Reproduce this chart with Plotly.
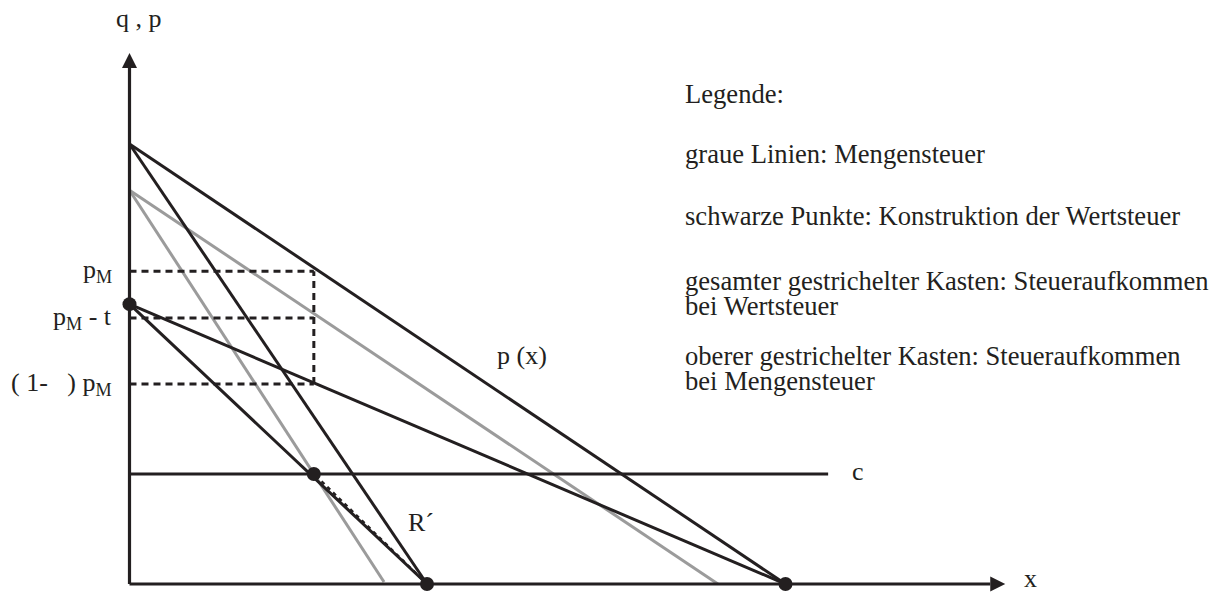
import plotly.graph_objects as go

# Diagram in economic units: demand intercepts normalised to 100
demand_x, demand_y = [0, 100], [100, 0]            # p(x)
mr_x, mr_y = [0, 45.35], [100, 0]                  # marginal revenue
gray_demand_x, gray_demand_y = [0, 89.7], [89.5, 0]      # after quantity tax
gray_mr_x, gray_mr_y = [0, 38.8], [89.5, 0.45]
rot_demand_x, rot_demand_y = [0, 100], [63.6, 0]         # rotated by value tax
rot_mr_x, rot_mr_y = [0, 45.35], [63.6, 0]
c_level, c_end = 25, 106.5
x_M = 28.1
p_M, p_M_t, p_M_tau = 71.1, 60.45, 45.45
dot_x = [0, x_M, 45.35, 100]
dot_y = [63.6, c_level, 0, 0]
y_axis_top, x_axis_end = 120.7, 133.5

BLACK = "#231f20"
GRAY = "#9b9b9b"
FONT = "Liberation Serif"
PX_X, PX_Y = 6.56, 4.4   # pixels per unit on each axis

fig = go.Figure()


def line(xs, ys, color=BLACK, width=3, dash="solid"):
    fig.add_trace(go.Scatter(x=xs, y=ys, mode="lines", hoverinfo="skip",
                             line=dict(color=color, width=width, dash=dash)))


# quantity-tax curves (gray)
line(gray_demand_x, gray_demand_y, GRAY, 3)
line(gray_mr_x, gray_mr_y, GRAY, 3)

# demand, marginal revenue and their value-tax rotations
line(demand_x, demand_y)
line(mr_x, mr_y)
line(rot_demand_x, rot_demand_y)
line(rot_mr_x, rot_mr_y)

# marginal cost
line([0, c_end], [c_level, c_level])

# tax revenue boxes
for lvl in (p_M, p_M_t, p_M_tau):
    line([0, x_M], [lvl, lvl], BLACK, 3, "7px,5px")
line([x_M, x_M], [p_M_tau, p_M], BLACK, 3, "7px,5px")

# dashed R' segment
line([x_M + 0.3, mr_x[1]], [c_level - 0.4, 0], BLACK, 2.5, "4px,4px")

# axes: shafts end under the arrowheads
head = 15
line([0, 0], [0, y_axis_top - head / PX_Y], BLACK, 3.2)
line([0, x_axis_end - head / PX_X], [0, 0], BLACK, 3.2)
fig.add_trace(go.Scatter(x=[0], y=[y_axis_top], mode="markers", hoverinfo="skip",
                         marker=dict(symbol="arrow-up", size=head, color=BLACK,
                                     line=dict(width=0))))
fig.add_trace(go.Scatter(x=[x_axis_end], y=[0], mode="markers", hoverinfo="skip",
                         marker=dict(symbol="arrow-right", size=head, color=BLACK,
                                     line=dict(width=0))))

# construction points
fig.add_trace(go.Scatter(x=dot_x, y=dot_y, mode="markers", hoverinfo="skip",
                         marker=dict(color=BLACK, size=14)))

annotations = []
txt = dict(family=FONT, size=26, color=BLACK)
legend_txt = dict(family=FONT, size=26.6, color=BLACK)


def label(text, x, y, xanchor="center", yanchor="middle", font=txt):
    annotations.append(dict(text=text, x=x / 1221, y=1 - y / 595,
                            xref="paper", yref="paper", showarrow=False,
                            xanchor=xanchor, yanchor=yanchor, font=font))


label("q , p", 139, 18)
label("x", 1030, 595, yanchor="bottom")
label("c", 858, 471)
label("p (x)", 522, 355)
label("R´", 421, 522)

# price levels on the vertical axis
for text, lvl in (("p<sub>M</sub>", p_M),
                  ("p<sub>M</sub> - t", p_M_t),
                  ("( 1-\u00a0\u00a0 ) p<sub>M</sub>", p_M_tau)):
    annotations.append(dict(text=text, x=0, y=lvl, xref="x", yref="y",
                            xanchor="right", yanchor="middle", xshift=-16,
                            showarrow=False, font=txt))

# legend block
legend_lines = [
    ("Legende:", 94),
    ("graue Linien: Mengensteuer", 154),
    ("schwarze Punkte: Konstruktion der Wertsteuer", 216),
    ("gesamter gestrichelter Kasten: Steueraufkommen", 281),
    ("bei Wertsteuer", 306),
    ("oberer gestrichelter Kasten: Steueraufkommen", 356),
    ("bei Mengensteuer", 381),
]
for text, y in legend_lines:
    label(text, 683, y, xanchor="left", font=legend_txt)

fig.update_layout(
    width=1221, height=595,
    margin=dict(l=0, r=0, t=0, b=0),
    paper_bgcolor="white", plot_bgcolor="white",
    showlegend=False,
    annotations=annotations,
    xaxis=dict(range=[-129.5 / PX_X, (1221 - 129.5) / PX_X], visible=False,
               fixedrange=True),
    yaxis=dict(range=[-11 / PX_Y, 584 / PX_Y], visible=False, fixedrange=True),
)

fig.write_html("out.html", config={"displayModeBar": False})
